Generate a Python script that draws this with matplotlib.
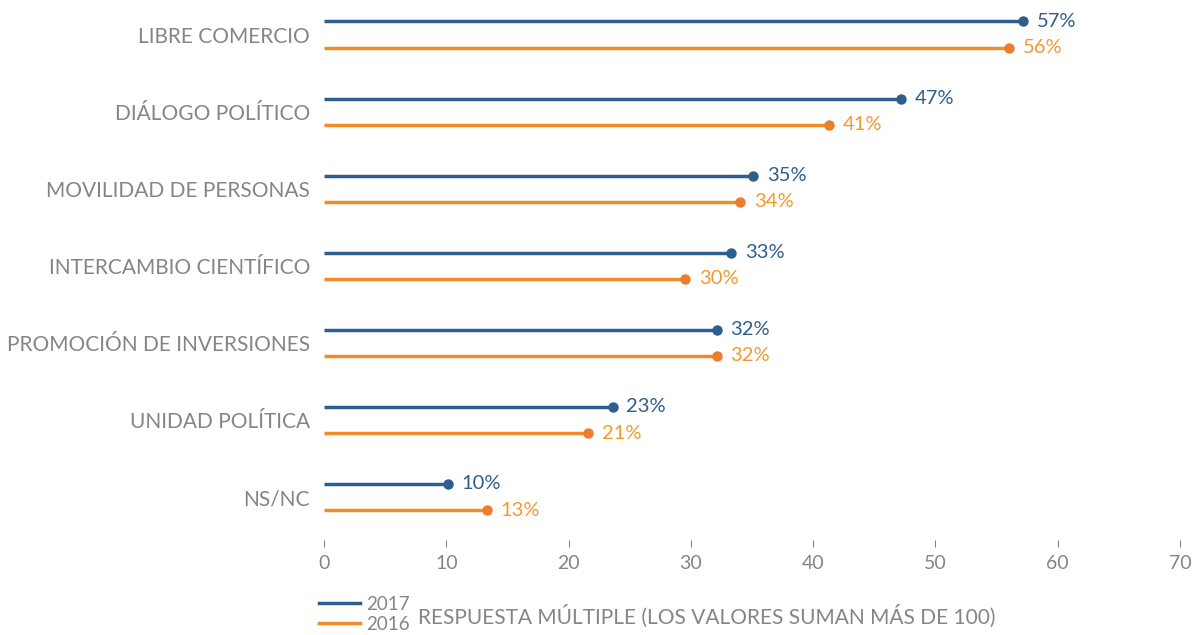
import matplotlib
matplotlib.use("Agg")
import matplotlib.pyplot as plt
from matplotlib.lines import Line2D

categories = ["LIBRE COMERCIO", "DIÁLOGO POLÍTICO", "MOVILIDAD DE PERSONAS",
              "INTERCAMBIO CIENTÍFICO", "PROMOCIÓN DE INVERSIONES",
              "UNIDAD POLÍTICA", "NS/NC"]
values_2017 = [57.2, 47.2, 35.1, 33.3, 32.1, 23.6, 10.1]
values_2016 = [56.0, 41.3, 34.0, 29.5, 32.1, 21.6, 13.3]
labels_2017 = ["57%", "47%", "35%", "33%", "32%", "23%", "10%"]
labels_2016 = ["56%", "41%", "34%", "30%", "32%", "21%", "13%"]
series_names = ["2017", "2016"]
xticks = [0, 10, 20, 30, 40, 50, 60, 70]
note = "RESPUESTA MÚLTIPLE (LOS VALORES SUMAN MÁS DE 100)"

BLUE = "#2E5E8E"
ORANGE_LINE = "#F28C28"
ORANGE_DOT = "#EC7C30"
ORANGE_TEXT = "#F39A2E"
GRAY = "#858585"

plt.rcParams['font.family'] = ['Lato', 'DejaVu Sans']

W, H = 1195, 635
fig = plt.figure(figsize=(W / 100, H / 100), dpi=100)
ax = fig.add_axes([324 / W, 1 - 540 / H, (1180 - 324) / W, (540 - 10) / H])

c0, step = 34.6, 77.07
off = 0.17
for i, (v17, v16) in enumerate(zip(values_2017, values_2016)):
    y17 = i - off
    y16 = i + off
    ax.plot([0, v17], [y17, y17], color=BLUE, lw=2.5, solid_capstyle='butt')
    ax.plot([v17], [y17], 'o', color=BLUE, ms=6.5)
    ax.plot([0, v16], [y16, y16], color=ORANGE_LINE, lw=2.5, solid_capstyle='butt')
    ax.plot([v16], [y16], 'o', color=ORANGE_DOT, ms=6.5)
    ax.annotate(labels_2017[i], (v17, y17), xytext=(10, 0), textcoords='offset points',
                va='center', ha='left', color=BLUE, fontsize=14.5)
    ax.annotate(labels_2016[i], (v16, y16), xytext=(10, 0), textcoords='offset points',
                va='center', ha='left', color=ORANGE_TEXT, fontsize=14.5)

ax.set_xlim(0, 70)
ax.set_ylim(6 + (540 - (c0 + 6 * step)) / step, -(c0 - 10) / step)
ax.set_xticks(xticks)
ax.set_xticklabels([str(t) for t in xticks])
ax.set_yticks(range(len(categories)))
ax.set_yticklabels(categories)
ax.tick_params(axis='x', direction='out', length=5, width=0.8, colors=GRAY,
               labelsize=14, pad=6)
ax.tick_params(axis='y', length=0, colors=GRAY, labelsize=15, pad=10)
for s in ax.spines.values():
    s.set_visible(False)

handles = [Line2D([], [], color=BLUE, lw=2.5), Line2D([], [], color=ORANGE_LINE, lw=2.5)]
leg = fig.legend(handles, series_names, loc='upper left',
                 bbox_to_anchor=(319 / W, 1 - 596 / H), frameon=False,
                 handlelength=2.2, handletextpad=0.3, labelspacing=0.15,
                 borderaxespad=0, borderpad=0, fontsize=13.5, labelcolor=GRAY)
fig.text(418 / W, 1 - 616 / H, note, color=GRAY, fontsize=15, va='center', ha='left')

fig.savefig("out.png", dpi=100)
